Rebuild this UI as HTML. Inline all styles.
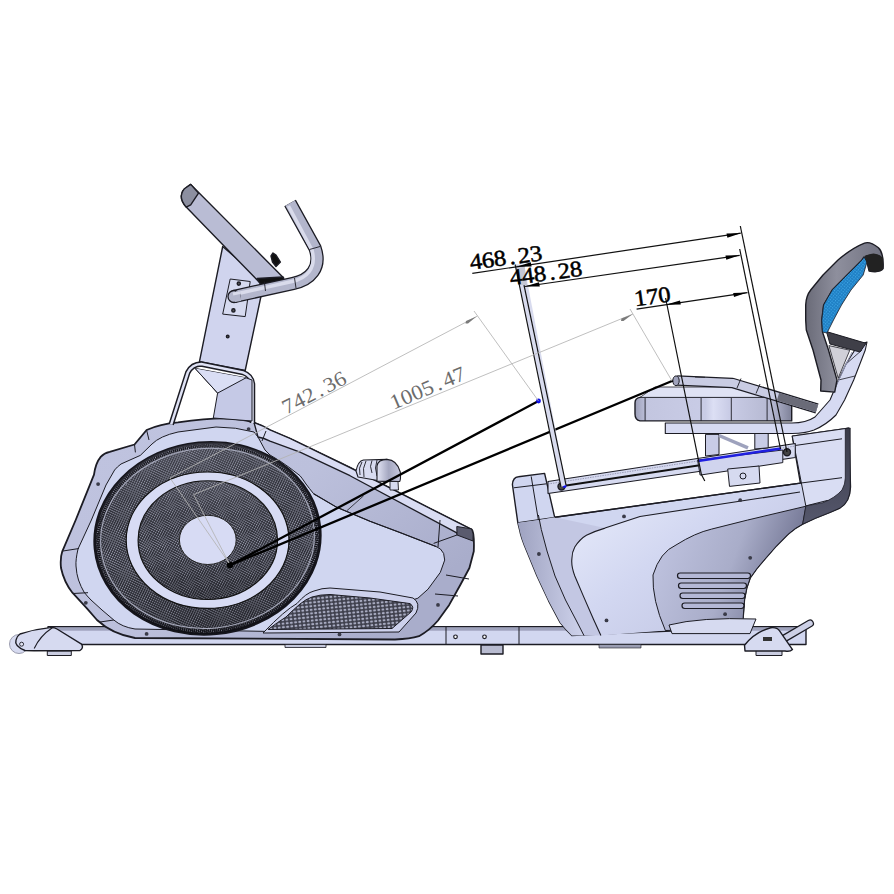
<!DOCTYPE html>
<html><head><meta charset="utf-8">
<style>
html,body{margin:0;padding:0;background:#fff;width:894px;height:894px;overflow:hidden}
svg{display:block}
text{font-family:"Liberation Serif",serif}
</style></head>
<body>
<svg width="894" height="894" viewBox="0 0 894 894">
<defs>
<pattern id="mesh" width="2.2" height="2.2" patternUnits="userSpaceOnUse" patternTransform="rotate(30)">
<rect width="2.2" height="2.2" fill="#2e2f38"/>
<rect x="0" y="0" width="1.25" height="1.25" fill="#9a9cad"/>
</pattern>
<linearGradient id="shade" x1="0" y1="0" x2="0" y2="1">
<stop offset="0" stop-color="#8a8c9c" stop-opacity="0.25"/><stop offset="0.55" stop-color="#000" stop-opacity="0"/><stop offset="1" stop-color="#000" stop-opacity="0.25"/>
</linearGradient>
<pattern id="grill" width="4.2" height="3.6" patternUnits="userSpaceOnUse" patternTransform="rotate(-6)">
<rect width="4.2" height="3.6" fill="#3e3f4c"/>
<ellipse cx="2.1" cy="1.8" rx="1.5" ry="1.15" fill="#a9acc2"/>
</pattern>
<linearGradient id="knobg" x1="0" y1="0" x2="1" y2="0"><stop offset="0" stop-color="#e2e4f4"/><stop offset="0.5" stop-color="#a4a7c0"/><stop offset="1" stop-color="#c9cbe0"/></linearGradient>
<linearGradient id="cush" x1="0" y1="0" x2="1" y2="0"><stop offset="0" stop-color="#9c9fb8"/><stop offset="0.08" stop-color="#c3c6e0"/><stop offset="0.45" stop-color="#c9cce6"/><stop offset="0.5" stop-color="#dcdff4"/><stop offset="0.6" stop-color="#c9cce6"/><stop offset="0.88" stop-color="#b4b7d0"/><stop offset="1" stop-color="#7e8198"/></linearGradient>
<linearGradient id="band" x1="0" y1="0" x2="1" y2="0"><stop offset="0" stop-color="#6a6b78"/><stop offset="0.4" stop-color="#8e8f9d"/><stop offset="1" stop-color="#707180"/></linearGradient>
<linearGradient id="hsg" x1="0" y1="0" x2="1" y2="0.6"><stop offset="0" stop-color="#c0c4e0"/><stop offset="0.55" stop-color="#bcc0dc"/><stop offset="1" stop-color="#a9adcb"/></linearGradient>
<pattern id="blue" width="2.4" height="2.4" patternUnits="userSpaceOnUse" patternTransform="rotate(40)"><rect width="2.4" height="2.4" fill="#1f7fc4"/><rect width="1.2" height="1.2" fill="#3fa6e6"/></pattern>
<linearGradient id="tube" x1="0" y1="0" x2="0" y2="1">
<stop offset="0" stop-color="#e6e8f6"/><stop offset="1" stop-color="#a9abc4"/>
</linearGradient>
</defs>
<g stroke="#1c1c24" stroke-width="1.4" stroke-linejoin="round" fill="#d2d7f1">

<!-- base rail -->
<path d="M48 626.8 L806 626.8 L806 644.5 L48 644.5 Z" fill="#d2d7f0"/>
<rect x="48.7" y="627.5" width="756.6" height="3.2" fill="#9ea2bc" stroke="none"/>
<path d="M446 627 V644 M519 627 V644" fill="none" stroke-width="1"/>
<rect x="599" y="644.5" width="42" height="3.5" fill="#9a9db2" stroke-width="0.6"/>
<circle cx="455.5" cy="636.8" r="1.8" fill="#fff" stroke-width="1.2"/>
<circle cx="484.5" cy="636.8" r="1.8" fill="#fff" stroke-width="1.2"/>
<rect x="481" y="645" width="22" height="9" fill="#b8bbd0"/>
<rect x="285" y="644.5" width="41" height="3" fill="#c5c8dc" stroke-width="0.8"/>

<!-- front foot -->
<rect x="47.3" y="651" width="24" height="4.5" fill="#c9cce0" stroke-width="1"/>
<circle cx="19" cy="644" r="9.5" fill="#d6daf0" stroke="#9a9cae" stroke-width="1"/>
<path d="M20 634 Q35 629 50 627.6 Q54 627 57 629 L81.5 644.2 Q84 648 80 650.5 L34 650.7 L25 650.5 Q14 646 16 640 Q17 636 20 634 Z" fill="#d6daf0"/>
<path d="M52.3 627.8 Q40 636 34.2 648.5" fill="none" stroke-width="1.1"/>
<circle cx="21.6" cy="644.2" r="2" fill="#e0e2f2" stroke-width="0.9"/>
<!-- front housing -->
<path d="M134.5 444.5 L146.6 430 Q160 424 178 422.4 Q216 417 236 419 Q248 420.5 254 422.5 Q263 425.5 270 430 L290 438.5 L350 467.6 L430 508.5 L471.6 529.5 Q474.5 532 473.8 551.2 L469.4 568 L460.4 584.7 L449.2 604.9 L438 620.5 Q430 630 419 636.2 Q410 639 395 639.5 L135 638 Q112 634 97 620 L86.9 608.4 L72.4 592.7 Q64 582 61 568 Q60 558 62.3 551.3 L75.7 520 L94 474.7 Q95.5 463 100.7 456.8 Q104 453 109.7 451.8 Z" fill="url(#hsg)" stroke-width="1.8"/>
<!-- light region -->
<path d="M91.4 520 L78 549 Q75.5 560 76 566 Q76.5 574 78.5 580 Q81 587 84 592 Q87 596 91 600 L102 610 L113.8 620 Q122 627 135 629 L300 632 L392 629 L411.2 600.4 L417.9 598.2 L428 589.2 L440.3 572.4 L444.7 560.1 L443.6 553.4 Q441 548 436 546.5 L400 532.6 L370 521.3 L336.4 507.1 L313.6 493.7 Q309 488 306 484 Q302 478 300 475.7 L290 468 L280 461 L270 455 L265 450 L258 437 L254 432 Q236 427 216 427 L178 432 Q160 436 152 444 L140.3 455.4 L121 464 Q117 467 114.6 470 L106 485 Z" fill="#d0d6f0" stroke-width="1"/>
<!-- top rim band -->
<path d="M254 422.5 Q263 425.5 270 430 L290 438.5 L350 467.6 L430 508.5 L471.6 529.5 L457 534 L456.8 532.9 L350 475.7 L300 452.2 L270 441.1 Q264 438 258 437 Z" fill="#d9dcf3" stroke-width="1.3"/>
<path d="M456.8 526.5 L471.6 528.9 Q474 533 473 541 L457 535 Z" fill="#5a5b6e" stroke-width="1"/>
<path d="M440 520 L438 547 M433.6 543.4 L457 535" fill="none" stroke-width="1"/>
<path d="M446 575 L469 579 M435 594 L458 596 M149 440 L146.6 430 M135.4 452.4 L134.5 444.5" fill="none" stroke-width="1"/>
<path d="M79 548.5 L63 551 M88 592.7 L73 593.5 M113.8 620 L100 622 M266 431 L262 441" fill="none" stroke-width="1"/>
<!-- upper right shade boundary -->
<path d="M313.6 493.7 L336.4 507.1 L370 521.3 L400 532.6 L436 546.5" fill="none" stroke-width="1.1"/>
<path d="M347 510.6 L363.6 495.8" fill="none" stroke-width="0.8"/>

<!-- mesh wheel -->
<g transform="rotate(-5.4 207.5 538.3)">
<ellipse cx="207.5" cy="538.3" rx="112.8" ry="95.7" fill="url(#mesh)" stroke="#15151c" stroke-width="3"/>
<ellipse cx="207.5" cy="538.3" rx="112.8" ry="95.7" fill="url(#shade)" stroke="none"/>
<ellipse cx="207.5" cy="538.3" rx="109.5" ry="92.5" fill="none" stroke="#0e0e14" stroke-width="3" stroke-dasharray="0.9 1.1"/>
<ellipse cx="207.5" cy="538.3" rx="107" ry="90" fill="none" stroke="#a8abbd" stroke-width="1"/>
</g>
<ellipse cx="207.6" cy="540.2" rx="81.4" ry="68.2" fill="#d7dbf4" stroke="#111" stroke-width="1.2"/>
<ellipse cx="207.8" cy="540.2" rx="69.7" ry="59.3" fill="url(#mesh)" stroke="#111" stroke-width="1.2"/>
<ellipse cx="207.8" cy="540.2" rx="69.7" ry="59.3" fill="url(#shade)" stroke="none"/>
<ellipse cx="207.8" cy="539.9" rx="28.4" ry="24.6" fill="#d7dbf4" stroke="#222" stroke-width="1"/>

<!-- vent grille -->
<path d="M263 633 Q285 610 297 603.5 Q306 593 314 591 Q322 588 330 588 L380 592 L413 598 Q421 603 416 613 L399 632 Z" fill="#cdd1ec" stroke-width="1"/>
<path d="M268 629.5 Q278 622 286 617 Q294 609 300 604 Q306 599 312 597 Q320 594.5 330 594.5 L370 598 L410 603.6 Q415 607 411 612 L392 628.5 Z" fill="url(#grill)" stroke-width="1"/>

<!-- knob -->
<path d="M390 481.5 L398 481.5 L398.5 490 L390 490 Z" fill="#d6daf0" stroke-width="0.9"/>
<path d="M356 471 Q358 461 363.4 460 L387 459.4 L386 482 L358 477 Z" fill="#d8dbf0" stroke-width="1.1"/>
<path d="M362 462 Q358 468 360 475 M366 461 Q362 468 364 477 M372 460.5 Q369 466 372 473 M377 460 Q374 468 377 476" fill="none" stroke-width="0.9"/>
<path d="M377 481 L377 466 Q378 459.5 387 459.4 Q397 460 400.3 472 Q401 479 399.7 481.5 Z" fill="url(#knobg)" stroke-width="1.1"/>
<!-- column -->
<path d="M222.7 246.5 L199.4 361.8 L245.2 370.5 L264 282 Z" fill="#d0d4ee"/>
<!-- U frame -->
<path d="M171.2 424.3 L187.8 372.5 Q192 364.2 201.2 364 L243 372.5 Q251.5 375.5 252.5 384 L252.5 422.9" fill="none" stroke-width="5.5"/>
<path d="M171.2 424.3 L187.8 372.5 Q192 364.2 201.2 364 L243 372.5 Q251.5 375.5 252.5 384 L252.5 422.9" fill="none" stroke="#dfe2f5" stroke-width="2.5"/>
<path d="M195.1 368.4 L246 377.8 L252 380 L252 421 L213.3 418 L217.6 393.1 Z" fill="#c5c9e6" stroke-width="1"/>
<path d="M195.1 368.4 L217.6 393.1 L246 377.8" fill="#dadef4" stroke-width="1"/>
<!-- plate -->
<path d="M230.2 279 L250.2 281.5 L245.2 316.6 L222.7 314.1 Z" fill="#d6daf0" stroke-width="1"/>
<circle cx="238.8" cy="283.6" r="1.6" fill="#555"/>
<circle cx="233.4" cy="310.4" r="1.6" fill="#555"/>
<circle cx="227.7" cy="336.6" r="1.3" fill="#555"/>

<!-- console -->
<linearGradient id="cons" x1="0" y1="0" x2="1" y2="-1" gradientUnits="objectBoundingBox"><stop offset="0" stop-color="#b9bcd4"/><stop offset="0.5" stop-color="#dadcef"/><stop offset="1" stop-color="#c4c7de"/></linearGradient>
<path d="M190.7 184.4 L283.7 278 L261 284 L186.2 207.1 Q181 201 181.3 196 Q182 190 186.2 187.5 Z" fill="url(#cons)"/>
<path d="M190.7 184.4 L198.5 193.1 L190.7 204.8 L186.2 207.1 Q181 201 181.3 196 Q182 190 186.2 187.5 Z" fill="#8c8fa0"/>
<path d="M257 278.5 L283 277 L284 280.5 L261 285 Z" fill="#111"/>
<path d="M271 256 L273 253 L276 255 L280.4 262 L276 266.5 L272.5 262 Z" fill="#111"/>
<!-- handlebar -->
<path d="M234 296.5 L293 283.5 C310 280 322 268 315 248 L290.1 203.1" fill="none" stroke="#1c1c24" stroke-width="13.3" stroke-linecap="butt"/>
<path d="M234 296.5 L293 283.5 C310 280 322 268 315 248 L290.1 203.1" fill="none" stroke="#b3b6cc" stroke-width="10.8" stroke-linecap="butt"/>
<path d="M236 294 L292 281.5 C306 278.5 317 269 312 250 L288.5 206" fill="none" stroke="#d9dbeb" stroke-width="3.5" stroke-linecap="butt"/>
<circle cx="234" cy="296.5" r="6" fill="#b3b6cc" stroke-width="1.3"/>
<path d="M236 291.2 L240 291 L241 301 L235 302 Z" fill="#b3b6cc" stroke="none"/>
<path d="M233 294 L240 292.6" stroke="#d9dbeb" stroke-width="3" fill="none"/>
<path d="M264.3 281.5 L265.5 291 M294.5 278 L296 288 M309.5 249.5 L320 246.5" fill="none" stroke-width="0.9"/>
<!-- seat base housing -->
<path d="M512.4 484.5 Q513 477 518.4 476.7 L544.6 473.4 L554.7 517.3 L800.4 483.1 L792.3 436.1 L848.7 428.1 L850.5 487 Q850 502 840 508 L830 512.4 Q815 518 802.7 524.1 Q795 528 788.1 534.2 L776.5 545.9 L766.3 557.5 L757.6 567.7 L750.3 577.8 Q746 588 744.5 599.7 L743.1 618.5 L743 628 L600 634 L571.9 635.6 Q566 630 560.2 622.6 L548.6 600.8 L537 576 L526.8 551.3 Q521 538 519.5 529.5 L517.8 522.7 Z" fill="#d0d6f0"/>
<path d="M513.7 487.8 L546.6 483.8 M531.2 476.4 L539.2 525 M517.8 522.7 L554.7 517.3" fill="none" stroke-width="1"/>
<!-- front band -->
<linearGradient id="fb" x1="0" y1="0" x2="1" y2="0"><stop offset="0" stop-color="#9ea2c0"/><stop offset="1" stop-color="#cfd3ec"/></linearGradient>
<path d="M517.8 522.7 L539 520 L541.3 529.5 L547 551 L555 576 L565.5 600 L576 620 L584 635.6 L571.9 635.6 Q566 630 560.2 622.6 L548.6 600.8 L537 576 L526.8 551.3 Q521 538 519.5 529.5 Z" fill="url(#fb)" stroke="none"/>
<path d="M539 520 L541.3 529.5 L547 551 L555 576 L565.5 600 L576 620 L584 635.6 L600.9 635.6 L593.7 619.7 L583.5 596.4 L574.8 576 Q571 566 571.9 558.6 Q572 552 574.8 547 Q580 539 586.4 535.3 Q595 531 605 528.1 L554.7 517.3 Z" fill="#c3c7e3" stroke="none"/>
<path d="M538.4 515 L541.3 529.5 L547 551 L555 576 L565.5 600 L576 620 L584 635.6" fill="none" stroke-width="1"/>
<!-- inner panel 1 -->
<linearGradient id="ip1" x1="0" y1="0" x2="1" y2="0.8"><stop offset="0" stop-color="#e8ecfb"/><stop offset="0.45" stop-color="#d2d7f1"/><stop offset="1" stop-color="#bfc3e0"/></linearGradient>
<path d="M600.9 635.6 L593.7 619.7 L583.5 596.4 L574.8 576 Q571 566 571.9 558.6 Q572 552 574.8 547 Q580 539 586.4 535.3 Q595 531 605 528.1 L640 516.5 L800 492 L806 506.2 L747.4 520.1 L711.6 529.1 Q695 533 676 545 Q660 552 653 575 Q652 600 665.4 630.5 Z" fill="url(#ip1)" stroke="none"/>

<path d="M600.9 635.6 L593.7 619.7 L583.5 596.4 L574.8 576 Q571 566 571.9 558.6 Q572 552 574.8 547 Q580 539 586.4 535.3 Q595 531 605 528.1 L640 516.5 L800 492" fill="none" stroke-width="1.1"/>
<path d="M554.7 517.3 L800.4 483.1" fill="none" stroke-width="1.3"/>
<!-- inner panel 2 (dark) -->
<linearGradient id="p2" x1="0" y1="0" x2="1" y2="0.3"><stop offset="0" stop-color="#c3c7e4"/><stop offset="0.6" stop-color="#a9adc9"/><stop offset="1" stop-color="#6f7290"/></linearGradient>
<path d="M665.4 630.5 Q652 600 653 575 Q660 552 676 545 Q695 533 711.6 529.1 L747.4 520.1 L806 506.2 L802.7 524.1 Q795 528 788.1 534.2 L776.5 545.9 L766.3 557.5 L757.6 567.7 L750.3 577.8 Q746 588 744.5 599.7 L743.1 618.5 L743 628 Z" fill="url(#p2)" stroke-width="1"/>
<!-- rear block -->
<path d="M792.3 436.1 L848.7 428.1 L849 487 Q848 497 842 501 L827.2 500.5 L805.8 505.9 Z" fill="#d9ddf3" stroke-width="1"/>
<path d="M795 445.5 L842 438.8 M800.4 483.1 L842 477.7" fill="none" stroke-width="1"/>
<linearGradient id="dk" x1="0" y1="0" x2="0" y2="1"><stop offset="0" stop-color="#3a3b48"/><stop offset="1" stop-color="#55576c"/></linearGradient>
<path d="M845.3 428.6 L850.2 428 L850.3 487 Q850 502 840 508 L830 512.4 Q815 518 802.7 524.1 L805.8 506 L822.9 502.7 Q835 498 842 490 Q845.3 484 845.3 478 Z" fill="url(#dk)" stroke-width="0.8"/>
<!-- vents -->
<g fill="#b4b8d6" stroke-width="1.2">
<rect x="677.5" y="573" width="73" height="5.5" rx="2.7"/>
<rect x="678.5" y="583" width="68" height="5.5" rx="2.7"/>
<rect x="680" y="593" width="65" height="5.5" rx="2.7"/>
<rect x="682" y="603" width="62" height="5.5" rx="2.7"/>
</g>
<!-- pedestal -->
<path d="M669 625 Q700 617 756 619 L750 633.6 L672 633.6 Z" fill="#d6daf0" stroke-width="1"/>

<!-- rear foot -->
<path d="M785 638 L810 623.4" stroke="#1c1c24" stroke-width="8" stroke-linecap="round"/>
<path d="M785 638 L810 623.4" stroke="#cdd0e6" stroke-width="5.5" stroke-linecap="round"/>
<rect x="756" y="650.5" width="26" height="5" fill="#c9cce0" stroke-width="1"/>
<path d="M744.5 645.3 Q755 632 770.7 627.8 Q777 627 779.4 630.7 L792.5 649.6 Q790 652 785 651 L745 651 Z" fill="#d6daf0"/>
<rect x="763" y="637" width="9" height="4" fill="#333" stroke="none"/>

<!-- slide rail -->
<path d="M548 481.5 L795.3 443.5 L795.3 457.5 L548 493.5 Z" fill="#d6daf0" stroke-width="1.1"/>
<path d="M548 484 L795.3 446" fill="none" stroke="#8a8ca8" stroke-width="0.8" stroke-dasharray="1.5 1"/>
<path d="M563 486 L782.8 452.6" fill="none" stroke="#111" stroke-width="2"/>
<path d="M697.6 460.1 L782.8 450 L782.8 462.6 L700.1 475.1 Z" fill="#d0d4ee" stroke-width="1"/>
<path d="M698 461 L781 448.5" fill="none" stroke="#1f1fe0" stroke-width="2.6"/>
<circle cx="787" cy="452.2" r="3.5" fill="#444"/>
<circle cx="561.5" cy="486.5" r="3.5" fill="#444"/>
<path d="M727.7 469 L759 466 L760 483 L729.5 486.4 Z" fill="#d6daf0" stroke-width="1"/>
<circle cx="743" cy="476" r="3" fill="none" stroke-width="1"/>

<!-- seat posts -->
<path d="M705.5 434.4 L719 434.4 L719 454.5 L705.5 456 Z" fill="#c8cce6" stroke-width="1"/>
<path d="M754.8 433.2 L768.2 433.2 L768.2 447.8 L754.8 449 Z" fill="#c8cce6" stroke-width="1"/>
<path d="M719 435.5 L748 447.8" stroke-width="3.5" stroke="#9ea2bd"/>
<!-- seat plate + back tube -->
<path d="M665.3 423.2 L792.8 423.2 Q815 421 830 405 Q845 390 852 372 L867.2 344.4 L860.3 350.2 Q850 372 840.5 385.1 Q828 400 814.9 413.1 Q808 418 798 420 L665.3 420 Z" fill="none" stroke="none"/>
<path d="M665.3 423 L792 423 Q806 423 815 417 L830 400 L838.5 380 L846 364 L858 345 L867 342 L865.3 350 L853.7 380 L844.6 400 L836 415 Q826 425 814 430 Q805 433.5 792 433.5 L665.3 433.5 Z" fill="#d6daf2" stroke-width="1.1"/>
<path d="M846 364 L862 350 M838.5 380 L855 376" fill="none" stroke-width="0.8"/>
<path d="M842 372 L852 352 M836 386 L848 360" fill="none" stroke="#8f93b0" stroke-width="1"/>
<!-- cushion -->
<path d="M640 397.4 L791.7 397.4 L791.7 420.9 L640 420.9 Q635 420 635 414 L635 403 Q635 398 640 397.4 Z" fill="url(#cush)"/>
<path d="M645.1 397.4 V420.9 M701.1 397.4 V420.9 M731.3 397.4 V420.9 M767.1 397.4 V420.9" fill="none" stroke-width="0.9"/>
<path d="M640 397.4 L655 387 L760 387 L791.7 397.4 Z" fill="#dfe2f4" stroke-width="0.8"/>
<!-- seat handle tube -->
<path d="M677 380.6 L732.4 382.9 L817 408.5" fill="none" stroke="#1c1c24" stroke-width="10.5" stroke-linecap="butt" stroke-linejoin="round"/>
<path d="M677 380.6 L732.4 382.9 L817 408.5" fill="none" stroke="#c9cce3" stroke-width="8" stroke-linecap="butt" stroke-linejoin="round"/>
<path d="M778 396.7 L817 408.5" fill="none" stroke="#6a6b78" stroke-width="8"/>
<ellipse cx="676" cy="380.8" rx="3.2" ry="4.9" fill="#9fa2bb" stroke-width="1"/>
<path d="M741 378.5 L737 388 M760 384 L756 393.5 M695 377 L705 377.3" fill="none" stroke-width="0.9"/>
<!-- backrest bracket -->
<path d="M826.5 331.6 L866.1 343.3 L860 352 L830 344 Z" fill="#3f3f48" stroke-width="1"/>
<path d="M828.9 345.6 L849.8 350.2 L838.2 378.2 Z" fill="#d0d0d8" stroke-width="0.8"/>
<!-- backrest -->
<path d="M805.7 320 L805.7 305 Q806 296 810.7 290 L823 275 L838 260 Q852 248 864.5 243.1 Q870 241 878.4 247.8 Q884 253 883.1 268.7 Q880 273 869.1 271.1 L867 262 L864 257 L862 260 L847 275 L832.2 290 L823.6 305 L821.8 320 L822.5 332 L828.5 350 L837 380 L834.7 392.1 L820.7 391 L821 380 L813 350 L806.3 330 Z" fill="url(#band)"/>
<path d="M864 257 L862 260 L847 275 L832.2 290 L823.6 305 L821.8 320 L822.5 332 L827 333 L833.5 320 L841.5 305 L851 290 L863.2 275 L867 262 Z" fill="url(#blue)" stroke-width="0.8"/>
<path d="M864.5 256 Q876 250 883 258 L883.1 268.7 Q880 273 869.1 271.1 Z" fill="#222" stroke="none"/>
</g>

<!-- bolts -->
<g fill="#3a3b48" stroke="none"><circle cx="98.1" cy="484.1" r="1.9"/><circle cx="85.8" cy="602.8" r="1.9"/><circle cx="146.6" cy="633.9" r="1.9"/><circle cx="248.6" cy="429.1" r="1.9"/><circle cx="438" cy="604.9" r="1.9"/><circle cx="339.5" cy="634.4" r="1.9"/><circle cx="624" cy="516.4" r="1.9"/><circle cx="538.9" cy="554" r="1.9"/><circle cx="606.5" cy="620.4" r="1.9"/><circle cx="740.2" cy="500.2" r="1.9"/><circle cx="750.2" cy="557.8" r="1.9"/><circle cx="725.1" cy="614.2" r="1.9"/></g>
<!-- dimension lines (black) -->
<g stroke="#000" fill="none" stroke-width="2.3" stroke-linecap="round">
<path d="M230.5 565 L538.5 401"/>
<path d="M230.5 565 L672 381"/>
</g>
<circle cx="230" cy="565" r="3.2" fill="#000"/>
<circle cx="538.5" cy="401" r="2.4" fill="#1010e8"/>
<circle cx="564.5" cy="486" r="2" fill="#1010e8"/>

<!-- left rod (double line) -->
<path d="M515.1 264.5 L524 264.5 L566 485 L561 487 Z" fill="#d8dbee" stroke="none"/>
<path d="M515.1 264.5 L524.6 266 L527 285 L520 285 Z" fill="#c4c6d4" stroke="none"/>
<g stroke="#111" fill="none" stroke-width="1.2">
<path d="M515.1 264.5 L561 487"/>
<path d="M524 285.2 L566 485"/>
<path d="M472.3 273.4 L740.8 233.2"/>
<path d="M524.6 286.5 L739.7 255.3"/>
<path d="M636.6 309.1 L747.5 292.6"/>
<path d="M740.3 226 L787 452"/>
<path d="M739.7 249 L780.5 449"/>
<path d="M665.6 298 L701.4 474.6 L704.8 481"/>
</g>
<g fill="#000">
<path d="M740.8 233.2 L726.5 233.5 L727.4 237.7 Z"/>
<path d="M739.7 255.3 L725.5 255.5 L726.3 259.7 Z"/>
<path d="M747.5 292.6 L733.2 292.9 L734 297.1 Z"/>
<path d="M516.5 266.7 L530.8 262.3 L531.6 266.5 Z"/>
<path d="M524.6 286.5 L539 282.2 L539.8 286.4 Z"/>
<path d="M665.7 304.7 L680 300.4 L680.8 304.6 Z"/>
</g>
<g font-size="22.5" fill="#000" stroke="#000" stroke-width="0.5">
<text transform="translate(471 269.7) rotate(-7.5) scale(1.1 1)" x="-0.13 10.87 21.87 35.69 43.87 54.87" y="0">468.23</text>
<text transform="translate(511 285.2) rotate(-7.5) scale(1.1 1)" x="-0.13 10.87 21.87 35.69 43.87 54.87" y="0">448.28</text>
<text transform="translate(635.5 306.3) rotate(-8) scale(1.1 1)" x="-0.13 10.87 21.87" y="0">170</text>
</g>

<!-- gray dimension lines -->
<g stroke="#b4b4b4" fill="none" stroke-width="0.85">
<path d="M229 563 L170 478 L477.4 316.1"/>
<path d="M229 563 L193.6 494.6 L633 314"/>
<path d="M474 311 L538.5 401"/>
<path d="M630 309 L672 381"/>
</g>
<g fill="#7a7a7a">
<path d="M476.5 316.6 L466 321 L465.5 323.5 L468 323.5 Z"/>
<path d="M632.5 314.2 L621.5 318.5 L621 321 L623.5 321 Z"/>
</g>
<g font-size="21" fill="#6c6c6c">
<text transform="translate(286.5 414.8) rotate(-27.5) scale(1.08 1)" x="0.12 10.86 21.6 34.97 43.08 53.82" y="0">742.36</text>
<text transform="translate(393.5 409.8) rotate(-22.8) scale(1.08 1)" x="0.03 10.58 21.14 31.69 44.88 52.81 63.36" y="0">1005.47</text>
</g>
</svg>
</body></html>
